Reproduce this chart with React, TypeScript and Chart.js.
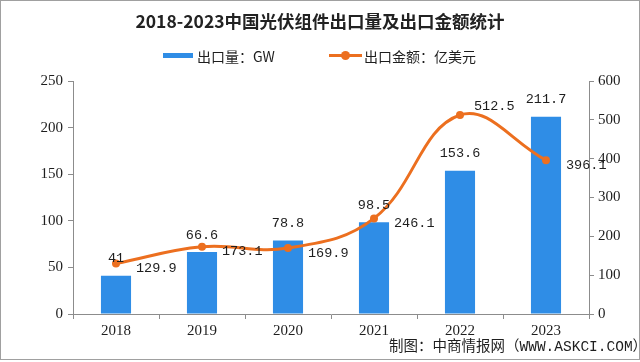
import React, { useEffect, useRef } from "react";
import { Chart, registerables } from "chart.js";

Chart.register(...registerables);

// ---- data ----
const years = ["2018", "2019", "2020", "2021", "2022", "2023"];
const exportVolumeGW = [41, 66.6, 78.8, 98.5, 153.6, 211.7];
const exportValueUSD100M = [129.9, 173.1, 169.9, 246.1, 512.5, 396.1];
const leftAxisTicks = [0, 50, 100, 150, 200, 250];
const rightAxisTicks = [0, 100, 200, 300, 400, 500, 600];

const titleText = "2018-2023中国光伏组件出口量及出口金额统计";
const barLegend = "出口量：GW";
const lineLegend = "出口金额：亿美元";
const sourceText = "制图：中商情报网（WWW.ASKCI.COM）";

// ---- styles ----
const BLUE = "#2f8de6";
const ORANGE = "#ec6f1f";
const AXIS = "#8c8c8c";
const TEXT = "#1e1e1e";
const TICK_FONT = { family: "'Liberation Serif', 'Times New Roman', serif", size: 15 };
const LABEL_FONT = "13.5px 'Liberation Mono', 'DejaVu Sans Mono', monospace";

const valueLabels = {
  id: "valueLabels",
  afterDatasetsDraw(chart: any) {
    const ctx = chart.ctx;
    ctx.save();
    ctx.font = LABEL_FONT;
    ctx.fillStyle = TEXT;
    ctx.textBaseline = "middle";
    // bar labels
    const barMeta = chart.getDatasetMeta(1);
    ctx.textAlign = "center";
    barMeta.data.forEach((el: any, i: number) => {
      ctx.fillText(String(exportVolumeGW[i]), el.x, el.y - 17);
    });
    // line labels
    const lineMeta = chart.getDatasetMeta(0);
    const maxVal = Math.max(...exportValueUSD100M);
    ctx.textAlign = "left";
    lineMeta.data.forEach((el: any, i: number) => {
      const v = exportValueUSD100M[i];
      const dy = v === maxVal ? -9 : 5;
      const dx = v === maxVal ? 14 : 20;
      ctx.fillText(v.toFixed(1), el.x + dx, el.y + dy);
    });
    ctx.restore();
  },
};

export default function App() {
  const canvasRef = useRef<HTMLCanvasElement | null>(null);

  useEffect(() => {
    const canvas = canvasRef.current;
    if (!canvas) return;
    const chart = new Chart(canvas, {
      data: {
        labels: years,
        datasets: [
          {
            type: "line",
            label: lineLegend,
            data: exportValueUSD100M,
            yAxisID: "y1",
            borderColor: ORANGE,
            backgroundColor: ORANGE,
            borderWidth: 3,
            tension: 0.4,
            pointRadius: 4,
            pointBorderWidth: 0,
            pointBackgroundColor: ORANGE,
            order: 0,
          } as any,
          {
            type: "bar",
            label: barLegend,
            data: exportVolumeGW,
            yAxisID: "y",
            backgroundColor: BLUE,
            barPercentage: 0.35,
            categoryPercentage: 1,
            order: 1,
          } as any,
        ],
      },
      options: {
        animation: false,
        responsive: false,
        maintainAspectRatio: false,
        layout: { padding: { top: 81, left: 0, right: 0, bottom: 0 } },
        plugins: {
          legend: { display: false },
          tooltip: { enabled: false },
          title: { display: false },
        },
        scales: {
          x: {
            offset: true,
            grid: { offset: true, drawOnChartArea: false, drawTicks: true, tickLength: 5, color: AXIS },
            border: { color: AXIS, width: 1 },
            ticks: { font: TICK_FONT, color: TEXT, padding: 3 },
            afterFit: (s: any) => {
              s.height = 48;
            },
          },
          y: {
            position: "left",
            min: leftAxisTicks[0],
            max: leftAxisTicks[leftAxisTicks.length - 1],
            ticks: { stepSize: leftAxisTicks[1] - leftAxisTicks[0], font: TICK_FONT, color: TEXT, padding: 5 },
            grid: { drawOnChartArea: false, drawTicks: true, tickLength: 5, color: AXIS },
            border: { color: AXIS, width: 1 },
            afterFit: (s: any) => {
              s.width = 73;
            },
          },
          y1: {
            position: "right",
            min: rightAxisTicks[0],
            max: rightAxisTicks[rightAxisTicks.length - 1],
            ticks: { stepSize: rightAxisTicks[1] - rightAxisTicks[0], font: TICK_FONT, color: TEXT, padding: 4 },
            grid: { drawOnChartArea: false, drawTicks: true, tickLength: 5, color: AXIS },
            border: { color: AXIS, width: 1 },
            afterFit: (s: any) => {
              s.width = 51;
            },
          },
        },
      } as any,
      plugins: [valueLabels],
    });
    return () => chart.destroy();
  }, []);

  const cjk = "'Noto Sans CJK SC', 'Noto Sans', sans-serif";

  return (
    <div style={{ position: "fixed", left: 0, top: 0, width: 640, height: 362, background: "#fff", overflow: "hidden" }}>
      <canvas ref={canvasRef} width={640} height={362} style={{ position: "absolute", left: 0, top: 0 }} />
      <div
        style={{
          position: "absolute",
          left: 0,
          top: 9,
          width: 640,
          textAlign: "center",
          fontFamily: cjk,
          fontWeight: 700,
          fontSize: 17.5,
          lineHeight: "24px",
          color: "#222",
        }}
      >
        {titleText}
      </div>
      <div style={{ position: "absolute", left: 163, top: 53, width: 30, height: 5, background: BLUE }} />
      <div
        style={{ position: "absolute", left: 197, top: 46, fontFamily: cjk, fontSize: 14, lineHeight: "20px", color: TEXT }}
      >
        {barLegend}
      </div>
      <div style={{ position: "absolute", left: 329, top: 54, width: 33, height: 3, background: ORANGE }} />
      <div
        style={{ position: "absolute", left: 341, top: 51, width: 9, height: 9, borderRadius: "50%", background: ORANGE }}
      />
      <div
        style={{ position: "absolute", left: 364, top: 46, fontFamily: cjk, fontSize: 14, lineHeight: "20px", color: TEXT }}
      >
        {lineLegend}
      </div>
      <div
        style={{
          position: "absolute",
          left: 389,
          top: 337,
          fontFamily: "'Liberation Mono', " + cjk,
          fontSize: 14.5,
          lineHeight: "20px",
          color: TEXT,
          whiteSpace: "nowrap",
        }}
      >
        {sourceText}
      </div>
      <div
        style={{
          position: "absolute",
          left: 0,
          top: 0,
          width: 640,
          height: 360,
          boxSizing: "border-box",
          border: "1px solid #a0a0a0",
          pointerEvents: "none",
        }}
      />
    </div>
  );
}
